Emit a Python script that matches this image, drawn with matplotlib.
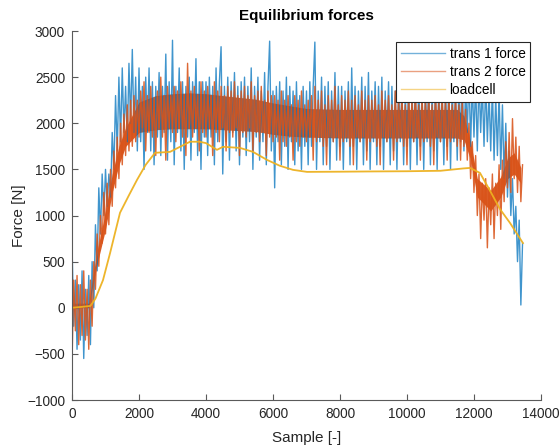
import numpy as np
import matplotlib
matplotlib.use("Agg")
import matplotlib.pyplot as plt
from matplotlib.lines import Line2D

plt.rcParams['font.family'] = ['Liberation Sans', 'DejaVu Sans']

# ---- data (one value every 50 samples) ----
step = 50
trans1 = [
    700, -200, 300, -450, 250, -350, 400, -550, 200, -300, 350, -400, 500, 0, 900, 400, 1300, 800, 1450, 1000,
    1500, 1100, 1450, 1200, 1900, 1500, 2300, 1700, 2500, 1800, 2600, 1900, 2400, 1800, 2650, 2000, 2800, 1900, 2500, 1700,
    2600, 1800, 2400, 1500, 2500, 1900, 2600, 1700, 2450, 1550, 2400, 1850, 2550, 1650, 2400, 1900, 2750, 1600, 2450, 1800,
    2900, 1550, 2400, 1900, 2600, 1700, 2450, 1500, 2400, 1850, 2500, 1600, 2450, 1900, 2700, 1650, 2450, 1500, 2450, 1850,
    2450, 1650, 2500, 1850, 2400, 1550, 2600, 1800, 2450, 2830, 1450, 2400, 1800, 2500, 1600, 2450, 1900, 2550, 1700, 2400,
    1550, 2450, 1850, 2500, 1650, 2400, 1800, 2600, 1500, 2400, 1850, 2500, 1600, 2350, 1800, 2550, 1550, 2400, 2890, 1700,
    2350, 1300, 2400, 1800, 2450, 1550, 2350, 1750, 2500, 1500, 2400, 1800, 2350, 1550, 2450, 1700, 2300, 1500, 2400, 1750,
    2350, 1550, 2450, 1750, 2400, 2880, 1500, 2350, 1800, 2500, 1550, 2400, 1750, 2450, 1500, 2350, 1800, 2550, 1600, 2400,
    1750, 2400, 1500, 2350, 1800, 2450, 1550, 2600, 1750, 2400, 1500, 2350, 1800, 2500, 1550, 2400, 1700, 2550, 1500, 2350,
    1800, 2450, 1550, 2400, 1750, 2500, 1500, 2350, 1800, 2450, 1550, 2400, 1700, 2350, 1500, 2450, 1800, 2400, 1550, 2350,
    1750, 2450, 1500, 2350, 1800, 2400, 1550, 2450, 1750, 2350, 1500, 2400, 1800, 2450, 1550, 2350, 1700, 2400, 1500, 2450,
    1800, 2350, 1550, 2400, 1750, 2450, 1500, 2400, 1800, 2350, 1600, 2450, 1800, 2500, 1700, 2400, 1900, 2550, 1750, 2450,
    1850, 2450, 1700, 2500, 1900, 2400, 1750, 2450, 1800, 2350, 1700, 2400, 1600, 2300, 1650, 2350, 1500, 2200, 1400, 2000,
    1200, 1700, 1000, 1400, 800, 1100, 500, 950, 30, 700,
]
trans2 = [
    -600, 300, -250, 350, -400, 250, -300, 400, -350, 200, -450, 300, -200, 500, 200, 800, 450, 1000, 700, 1250,
    800, 1350, 900, 1500, 1100, 1700, 1300, 1850, 1400, 2000, 1550, 2100, 1650, 2200, 1700, 2250, 1750, 2300, 1800, 2250,
    1850, 2350, 1950, 2450, 1700, 2300, 1900, 2400, 1850, 2250, 1650, 2350, 1950, 2500, 1850, 2300, 1600, 2400, 1950, 2300,
    1900, 2400, 1800, 2350, 1950, 2450, 1850, 2300, 1650, 2650, 1950, 2350, 1850, 2400, 1950, 2300, 1700, 2450, 1900, 2350,
    1850, 2400, 1950, 2300, 1650, 2450, 1900, 2350, 1800, 2400, 1950, 2300, 1700, 2400, 1900, 2350, 1850, 2450, 1950, 2300,
    1650, 2350, 1900, 2400, 1850, 2300, 1950, 2450, 1700, 2300, 1900, 2350, 1800, 2400, 1900, 2250, 1650, 2350, 1850, 2300,
    1800, 2300, 1850, 2250, 1600, 2350, 1800, 2250, 1750, 2300, 1850, 2200, 1600, 2300, 1800, 2250, 1750, 2350, 1850, 2200,
    1800, 2250, 1850, 2300, 1600, 2400, 1800, 2250, 1850, 2350, 1750, 2200, 1550, 2300, 1850, 2250, 1800, 2400, 1850, 2200,
    1600, 2300, 1800, 2250, 1850, 2350, 1750, 2250, 1550, 2300, 1850, 2200, 1800, 2350, 1850, 2250, 1600, 2300, 1800, 2250,
    1850, 2300, 1750, 2200, 1550, 2350, 1850, 2250, 1800, 2300, 1850, 2200, 1600, 2350, 1800, 2250, 1850, 2300, 1750, 2200,
    1550, 2300, 1850, 2250, 1800, 2350, 1850, 2200, 1600, 2300, 1800, 2250, 1850, 2300, 1750, 2200, 1550, 2350, 1850, 2250,
    1800, 2300, 1850, 2250, 1600, 2300, 1800, 2200, 1850, 2300, 1750, 2200, 1600, 2250, 1750, 2150, 1600, 2000, 1400, 1800,
    1250, 1650, 1000, 1450, 750, 1350, 950, 1400, 650, 1300, 900, 1450, 750, 1350, 1000, 1550, 850, 1600, 1150, 1800,
    1300, 1900, 1250, 2050, 1400, 1850, 1250, 1750, 1150, 1550,
]
# dense core of trans 2 (where its trace looks like a solid band)
band_x = [0, 500, 650, 800, 1000, 1200, 1400, 1600, 2000, 2500, 3000, 3500, 4000, 4500, 5000, 5500,
          6000, 6500, 7000, 8000, 9000, 10000, 11000, 11500, 11700, 11900, 12100, 12500, 12800, 13000,
          13200, 13400]
t2_lo = [0, 0, 300, 550, 850, 1250, 1550, 1750, 1900, 1930, 1940, 1940, 1940, 1930, 1920, 1910,
         1880, 1860, 1850, 1840, 1840, 1840, 1840, 1840, 1820, 1600, 1200, 1050, 1200, 1400,
         1450, 1350]
t2_hi = [50, 50, 400, 700, 1050, 1450, 1750, 1950, 2230, 2300, 2320, 2330, 2320, 2300, 2280, 2260,
         2220, 2190, 2160, 2150, 2150, 2150, 2150, 2150, 2080, 1800, 1400, 1270, 1420, 1620,
         1680, 1520]
load_x = [0, 300, 550, 700, 925, 1134, 1433, 1700, 1940, 2200, 2478, 2925, 3224, 3522, 3800, 4000,
          4328, 4507, 5015, 5403, 5821, 6200, 6597, 7015, 8000, 9000, 10000, 11000, 11672, 11880,
          12179, 12478, 12776, 13075, 13463]
load_y = [0, 10, 20, 100, 300, 590, 1030, 1220, 1386, 1550, 1680, 1690, 1745, 1800, 1800, 1785,
          1712, 1745, 1733, 1690, 1603, 1540, 1495, 1473, 1475, 1478, 1480, 1485, 1510, 1516,
          1462, 1270, 1070, 920, 701]

labels = ['trans 1 force', 'trans 2 force', 'loadcell']
colors = ['#0072BD', '#D95319', '#EDB120']
x_ticks = list(range(0, 14001, 2000))
y_ticks = list(range(-1000, 3001, 500))

s1 = np.arange(len(trans1)) * step
s2 = np.arange(len(trans2)) * step

fig = plt.figure(figsize=(5.6, 4.47), dpi=100)
ax = fig.add_axes([0.1286, 0.1051, 0.8374, 0.8255])

ax.plot(s1, trans1, color=colors[0], lw=1.0, alpha=0.75)
ax.fill_between(band_x, t2_lo, t2_hi, color=colors[1], lw=0, alpha=0.95)
ax.plot(s2, trans2, color=colors[1], lw=1.0, alpha=0.88)
ax.plot(load_x, load_y, color=colors[2], lw=1.3, alpha=0.95)

ax.set_xlim(0, 14000)
ax.set_ylim(-1000, 3000)
ax.set_xticks(x_ticks)
ax.set_yticks(y_ticks)
for sp in ['top', 'right']:
    ax.spines[sp].set_visible(False)
for sp in ['left', 'bottom']:
    ax.spines[sp].set_color('#5a5a5a')
    ax.spines[sp].set_linewidth(0.8)
ax.tick_params(direction='in', length=4, width=0.8, color='#5a5a5a',
               labelsize=9.8, labelcolor='#262626', pad=5)

ax.set_xlabel('Sample [-]', fontsize=11, color='#262626', labelpad=7)
ax.set_ylabel('Force [N]', fontsize=11, color='#262626', labelpad=0.5)
ax.set_title('Equilibrium forces', fontsize=11, fontweight='bold', color='black', pad=8)

handles = [Line2D([], [], color=c, lw=1.0, alpha=0.55) for c in colors]
leg = ax.legend(handles, labels, loc='upper right', bbox_to_anchor=(0.977, 0.97),
                borderaxespad=0, fontsize=9.8, frameon=True, fancybox=False,
                handlelength=3.3, handletextpad=0.3, labelspacing=0.3,
                borderpad=0.35, framealpha=1)
leg.get_frame().set_edgecolor('#262626')
leg.get_frame().set_linewidth(0.8)

fig.savefig('out.png', dpi=100)
